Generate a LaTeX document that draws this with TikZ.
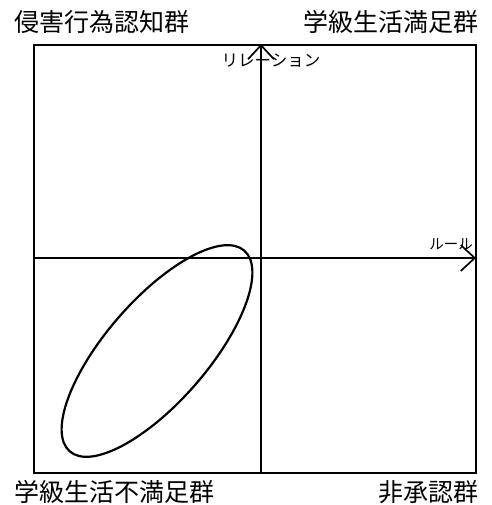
\documentclass[tikz,border=0pt]{standalone}
\usepackage{fontspec}
\setmainfont{Noto Sans CJK JP}
\usetikzlibrary{arrows.meta}
\tikzset{
  frame/.style={line width=1.7pt},
  axis/.style={line width=1.7pt, -{Straight Barb[length=14pt,width=26pt,line width=1.7pt]}},
  corner/.style={inner sep=0pt, font=\fontsize{25}{25}\selectfont},
  axislabel/.style={inner sep=0pt, font=\fontsize{16.5}{16.5}\selectfont},
  group/.style={line width=2.2pt}
}
\begin{document}
\begin{tikzpicture}[x=1pt,y=1pt]
\useasboundingbox (0,0) rectangle (491,505);
% frame
\draw[frame] (34,32) rectangle (476,460);
% axes
\coordinate (ybot) at (261,32);
\coordinate (ytop) at (261,461);
\coordinate (xleft) at (34,247);
\coordinate (xright) at (476,247);
\draw[axis] (ybot) -- (ytop);
\draw[axis] (xleft) -- (xright);
% axis labels
\node[axislabel] (rel) at (271,444) {リレーション};
\node[axislabel, font=\fontsize{14.5}{14.5}\selectfont] (rule) at (451,261) {ルール};
% corner labels
\node[corner, anchor=west] (tl) at (14,483) {侵害行為認知群};
\node[corner, anchor=east] (tr) at (479,483) {学級生活満足群};
\node[corner, anchor=west] (bl) at (14,13) {学級生活不満足群};
\node[corner, anchor=east] (br) at (479,13) {非承認群};
% ellipse
\draw[group] (157,154) ellipse [x radius=133, y radius=51, rotate=49];
\end{tikzpicture}
\end{document}
